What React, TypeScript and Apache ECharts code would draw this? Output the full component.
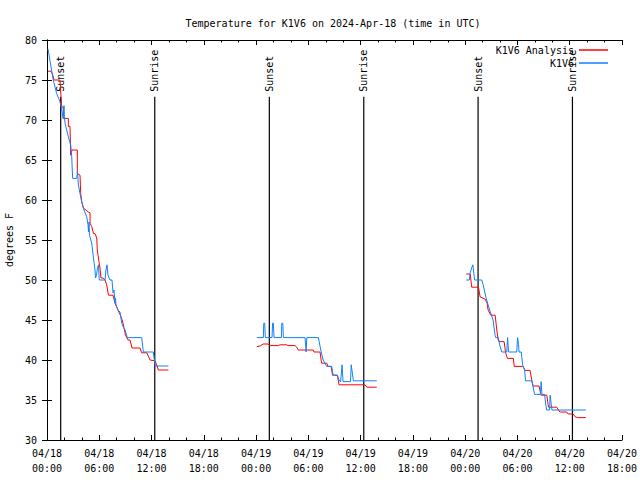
import React, { useEffect, useRef } from "react";
import * as echarts from "echarts";

// Hours since 2024-04-18 00:00 UTC, temperature in °F
const START = Date.UTC(2024, 3, 18);
const FONT = '"DejaVu Sans Mono", "Liberation Mono", monospace';

const analysisDay1: [number, number][] = [
  [0.11, 76.1], [0.46, 76.1], [0.63, 75.75], [0.72, 75.4], [0.8, 75.0], [1.49, 75.0],
  [1.61, 72.9], [1.69, 71.6], [1.87, 71.6], [1.87, 70.2], [2.45, 70.2], [2.45, 69.2],
  [2.64, 69.2], [2.72, 65.6], [2.87, 66.25], [3.48, 66.25], [3.48, 63.3], [3.79, 63.1],
  [3.87, 60.8], [3.98, 59.8], [4.17, 59.0], [4.74, 58.5], [4.94, 58.4], [4.94, 57.1],
  [5.13, 56.7], [5.34, 55.8], [5.51, 55.8], [5.71, 55.25], [5.77, 53.75], [5.97, 52.25],
  [6.08, 51.5], [6.2, 50.25], [6.46, 50.25], [6.66, 50.0], [6.85, 49.4], [7.06, 48.1],
  [7.58, 48.1], [7.81, 47.1], [8.15, 46.25], [8.5, 45.4], [8.73, 44.6], [9.01, 43.1],
  [9.3, 42.5], [9.53, 42.5], [9.76, 41.5], [10.68, 41.5], [10.87, 40.9], [11.45, 40.9],
  [11.83, 40.0], [12.4, 39.9], [12.59, 39.4], [12.78, 38.75], [13.93, 38.75],
];
const analysisDay2: [number, number][] = [
  [24.08, 41.67], [24.46, 41.75], [24.8, 42.0], [25.37, 42.0], [25.6, 41.8], [26.55, 41.8],
  [26.75, 41.9], [27.52, 41.9], [27.67, 41.8], [28.47, 41.8], [28.67, 41.6], [28.85, 41.25],
  [30.57, 41.25], [30.65, 41.0], [31.34, 41.0], [31.52, 39.6], [32.11, 39.6], [32.26, 39.2],
  [32.61, 39.2], [32.78, 38.1], [33.33, 38.1], [33.52, 36.9], [36.51, 36.9], [36.7, 36.6],
  [37.85, 36.6],
];
const analysisDay3: [number, number][] = [
  [48.12, 50.75], [48.58, 50.75], [48.75, 49.1], [49.53, 49.1], [49.71, 47.9], [50.29, 47.6],
  [50.52, 47.1], [50.63, 46.25], [50.94, 45.6], [51.44, 45.6], [51.63, 43.75], [51.78, 42.5],
  [51.89, 42.3], [52.47, 42.3], [52.64, 40.9], [52.85, 40.2], [53.54, 40.2], [53.62, 39.2],
  [54.62, 39.2], [54.88, 38.7], [55.45, 38.7], [55.68, 37.25], [55.79, 36.75], [56.48, 36.75],
  [56.71, 35.6], [57.37, 35.6], [57.52, 34.4], [57.58, 34.1], [58.52, 34.1], [58.78, 33.6],
  [58.9, 33.5], [59.66, 33.5], [59.82, 33.25], [60.39, 33.25], [60.62, 32.9], [60.88, 32.8],
  [61.85, 32.8],
];

const obsDay1: [number, number][] = [
  [0.11, 78.9], [0.72, 75.0], [1.11, 73.3], [1.49, 72.3], [1.69, 71.25], [1.87, 70.2],
  [1.95, 71.8], [2.0, 70.4], [2.07, 69.6], [2.45, 67.9], [2.72, 66.9], [2.84, 65.4],
  [2.9, 63.75], [2.95, 62.7], [3.41, 62.7], [3.5, 63.5], [3.6, 61.9], [3.79, 60.8],
  [3.98, 59.8], [4.25, 58.75], [4.56, 57.9], [4.71, 56.9], [4.76, 56.0], [4.82, 57.25],
  [4.88, 55.6], [5.13, 54.6], [5.32, 52.9], [5.51, 51.25], [5.57, 50.25], [5.68, 50.6],
  [5.8, 51.5], [5.91, 51.9], [6.0, 50.0], [6.66, 50.0], [6.77, 51.25], [6.89, 51.9],
  [7.0, 50.6], [7.23, 50.0], [7.46, 50.0], [7.58, 48.4], [7.69, 48.75], [7.81, 47.1],
  [7.86, 47.75], [7.92, 46.9], [8.15, 46.25], [8.38, 46.0], [8.58, 44.6], [8.76, 44.1],
  [8.96, 43.75], [9.22, 42.8], [10.87, 42.8], [11.06, 41.0], [12.2, 41.0], [12.4, 39.4],
  [12.46, 39.25], [13.93, 39.25],
];
const obsDay2: [number, number][] = [
  [24.08, 42.8], [24.83, 42.8], [24.88, 44.6], [24.99, 44.6], [25.06, 42.8], [25.83, 42.8],
  [25.89, 44.6], [25.98, 44.6], [26.06, 42.8], [26.9, 42.8], [26.95, 44.6], [27.06, 44.6],
  [27.13, 42.8], [29.62, 42.8], [29.74, 41.0], [29.82, 42.8], [31.15, 42.8], [31.42, 41.25],
  [31.69, 40.0], [32.11, 39.2], [32.68, 39.2], [32.84, 38.1], [33.33, 38.1], [33.52, 37.5],
  [33.7, 37.25], [33.87, 39.4], [33.98, 37.3], [34.84, 37.3], [34.92, 39.4], [35.17, 37.4],
  [37.85, 37.4],
];
const obsDay3: [number, number][] = [
  [48.12, 50.0], [48.47, 50.0], [48.58, 50.9], [48.74, 51.5], [48.88, 51.9], [48.95, 51.25],
  [49.08, 50.0], [49.91, 50.0], [50.06, 49.4], [50.4, 47.75], [50.63, 46.9], [50.86, 46.1],
  [51.2, 45.0], [51.43, 43.1], [51.51, 42.8], [51.81, 42.8], [51.95, 41.9], [52.2, 41.0],
  [52.77, 41.0], [52.87, 42.8], [52.98, 41.0], [53.92, 41.0], [54.01, 42.8], [54.13, 41.9],
  [54.18, 41.0], [54.44, 41.0], [54.59, 39.4], [54.82, 38.75], [54.93, 37.4], [55.66, 37.4],
  [55.97, 35.7], [56.62, 35.7], [56.72, 37.3], [56.81, 35.7], [57.12, 35.7], [57.23, 34.6],
  [57.35, 33.75], [57.69, 33.75], [57.75, 35.6], [57.83, 35.6], [57.96, 33.75], [61.85, 33.75],
];

const sunTimes = [1.57, 12.37, 25.52, 36.36, 49.48, 60.31];
const sunLabels = ["Sunset", "Sunrise", "Sunset", "Sunrise", "Sunset", "Sunrise"];
const SUN_LINE_TOP = 72.9;

const Y_MIN = 30;
const Y_MAX = 80;
const X_MAX = 66;

function joinDays(days: [number, number][][]): (number | null)[][] {
  const out: (number | null)[][] = [];
  days.forEach((d, i) => {
    if (i > 0) out.push([(days[i - 1][days[i - 1].length - 1][0] + d[0][0]) / 2, null]);
    d.forEach((p) => out.push(p));
  });
  return out;
}

function fmtTick(v: number): string {
  const d = new Date(START + v * 3600000);
  const p = (n: number) => String(n).padStart(2, "0");
  return `${p(d.getUTCMonth() + 1)}/${p(d.getUTCDate())}\n${p(d.getUTCHours())}:${p(d.getUTCMinutes())}`;
}

export default function App() {
  const ref = useRef<HTMLDivElement>(null);
  useEffect(() => {
    if (!ref.current) return;
    const chart = echarts.init(ref.current, undefined, { renderer: "svg" });
    const axisLine = { show: true, lineStyle: { color: "#000", width: 1 } };
    const xCommon = {
      type: "value",
      min: 0,
      max: X_MAX,
      interval: 6,
      axisLine,
      axisTick: { show: true, inside: true, length: 5, lineStyle: { color: "#000" } },
      minorTick: { show: true, splitNumber: 3, length: 2.5, lineStyle: { color: "#000" } },
      splitLine: { show: false },
    };
    const yCommon = {
      type: "value",
      min: Y_MIN,
      max: Y_MAX,
      interval: 5,
      axisLine,
      axisTick: { show: true, inside: true, length: 5, lineStyle: { color: "#000" } },
      splitLine: { show: false },
    };
    chart.setOption({
      animation: false,
      backgroundColor: "#fff",
      title: {
        text: "Temperature for K1V6 on 2024-Apr-18 (time in UTC)",
        left: 328,
        top: 13,
        textAlign: "center",
        textStyle: { fontFamily: FONT, fontSize: 10, fontWeight: "normal", color: "#000" },
      },
      legend: {
        orient: "vertical",
        right: 27,
        top: 39,
        align: "right",
        icon: "rect",
        itemWidth: 29,
        itemHeight: 1.5,
        itemGap: 1,
        data: ["K1V6 Analysis", "K1V6"],
        textStyle: { fontFamily: FONT, fontSize: 10, color: "#000", lineHeight: 12 },
      },
      grid: { left: 47, right: 18, top: 40, bottom: 40, containLabel: false, outerBoundsMode: "none" },
      xAxis: [
        {
          ...xCommon,
          position: "bottom",
          axisLabel: {
            margin: 6,
            formatter: fmtTick,
            fontFamily: FONT,
            fontSize: 10,
            lineHeight: 15,
            color: "#000",
          },
        },
        { ...xCommon, position: "top", axisLabel: { show: false } },
      ],
      yAxis: [
        {
          ...yCommon,
          position: "left",
          name: "degrees F",
          nameLocation: "middle",
          nameRotate: 90,
          nameGap: 32,
          nameTextStyle: { fontFamily: FONT, fontSize: 10, color: "#000" },
          axisLabel: { margin: 10, fontFamily: FONT, fontSize: 10, color: "#000" },
        },
        { ...yCommon, position: "right", axisLabel: { show: false } },
      ],
      series: [
        {
          type: "custom",
          name: "sun",
          xAxisIndex: 0,
          yAxisIndex: 0,
          silent: true,
          encode: { x: 0, y: 1 },
          data: sunTimes.map((t) => [t, Y_MIN]),
          renderItem: (params: any, api: any) => {
            const x = api.value(0);
            const p0 = api.coord([x, Y_MIN]);
            const p1 = api.coord([x, SUN_LINE_TOP]);
            return {
              type: "group",
              children: [
                {
                  type: "line",
                  shape: { x1: p0[0], y1: p0[1], x2: p1[0], y2: p1[1] },
                  style: { stroke: "#000", lineWidth: 1.2 },
                },
                {
                  type: "text",
                  x: p1[0],
                  y: p1[1] - 5,
                  rotation: Math.PI / 2,
                  style: {
                    text: sunLabels[params.dataIndex],
                    font: `10px ${FONT}`,
                    fill: "#000",
                    align: "left",
                    verticalAlign: "middle",
                  },
                },
              ],
            };
          },
          z: 1,
        },
        {
          type: "line",
          name: "K1V6 Analysis",
          color: "#ff0000",
          data: joinDays([analysisDay1, analysisDay2, analysisDay3]),
          showSymbol: false,
          symbol: "none",
          connectNulls: false,
          lineStyle: { width: 1, color: "#ff0000" },
          z: 2,
        },
        {
          type: "line",
          name: "K1V6",
          color: "#1080ff",
          data: joinDays([obsDay1, obsDay2, obsDay3]),
          showSymbol: false,
          symbol: "none",
          connectNulls: false,
          lineStyle: { width: 1, color: "#1080ff" },
          z: 3,
        },
      ],
    });
    return () => chart.dispose();
  }, []);
  return (
    <div
      ref={ref}
      style={{ position: "absolute", left: 0, top: 0, width: 640, height: 480, background: "#fff" }}
    />
  );
}
